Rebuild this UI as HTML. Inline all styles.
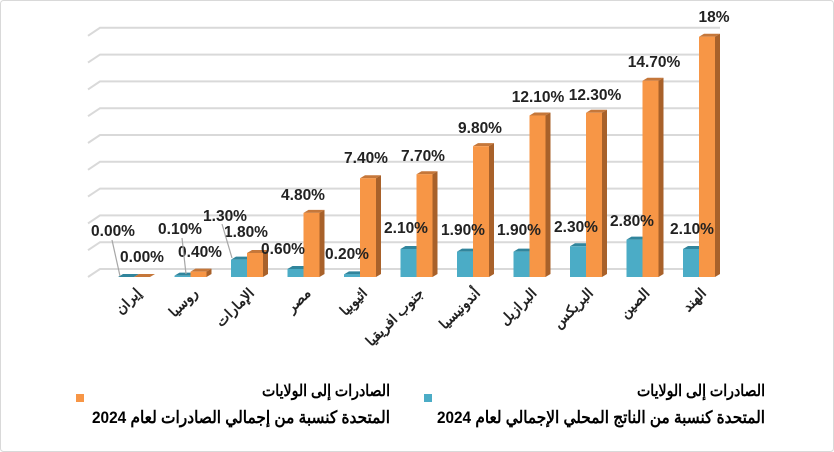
<!DOCTYPE html>
<html><head><meta charset="utf-8"><style>
html,body{margin:0;padding:0;background:#fff}
svg{display:block}
text{font-family:"Liberation Sans","Noto Sans CJK SC",sans-serif;font-weight:bold}
</style></head><body>
<svg width="834" height="452" viewBox="0 0 834 452" xmlns="http://www.w3.org/2000/svg">
<rect x="0.5" y="0.5" width="833" height="451" rx="3" fill="#fff" stroke="#d9d9d9"/>
<g stroke="#d9d9d9" stroke-width="2" fill="none" id="grid"></g>
<g id="bars"></g>
<g id="labels" font-size="15.5" fill="#222" text-anchor="middle"></g>
<g id="cats" font-size="14" fill="#222" text-anchor="end"></g>
<g stroke="#a6a6a6" stroke-width="1.2">
<line x1="112" y1="240" x2="120" y2="276"/>
<line x1="182" y1="238" x2="186" y2="274"/>
<line x1="222" y1="224" x2="232" y2="258"/>
</g>
<rect x="76" y="394" width="8" height="8" fill="#f79646"/>
<text x="262" y="396" font-size="16" textLength="128" lengthAdjust="spacingAndGlyphs" fill="#000">الصادرات إلى الولايات</text>
<text x="92" y="423" font-size="17" textLength="298" lengthAdjust="spacingAndGlyphs" fill="#000">المتحدة كنسبة من إجمالي الصادرات لعام 2024</text>
<rect x="424" y="394" width="8" height="8" fill="#4bacc6"/>
<text x="637" y="396" font-size="16" textLength="128" lengthAdjust="spacingAndGlyphs" fill="#000">الصادرات إلى الولايات</text>
<text x="437" y="423" font-size="17" textLength="328" lengthAdjust="spacingAndGlyphs" fill="#000">المتحدة كنسبة من الناتج المحلي الإجمالي لعام 2024</text>
<script>
var ns="http://www.w3.org/2000/svg";
function el(p,t,a,txt){var e=document.createElementNS(ns,t);for(var k in a)e.setAttribute(k,a[k]);if(txt)e.textContent=txt;document.getElementById(p).appendChild(e);}
for(var i=0;i<10;i++){var y=269-i*26.8;el("grid","polyline",{points:(88)+","+(y+8)+" 100,"+y+" 720,"+y});}
var d=[["إيران",0,0],["روسيا",0.1,0.4],["الإمارات",1.3,1.8],["مصر",0.6,4.8],["اثيوبيا",0.2,7.4],["جنوب افريقيا",2.1,7.7],["أندونيسيا",1.9,9.8],["البرازيل",1.9,12.1],["البريكس",2.3,12.3],["الصين",2.8,14.7],["الهند",2.1,18]];
var base=277,s=13.35;
function bar(x,v,f,t,sd){var h=v*s,top=base-h;
el("bars","polygon",{points:x+","+top+" "+(x+5)+","+(top-3)+" "+(x+21)+","+(top-3)+" "+(x+16)+","+top,fill:t});
el("bars","polygon",{points:(x+16)+","+top+" "+(x+21)+","+(top-3)+" "+(x+21)+","+(base-3)+" "+(x+16)+","+base,fill:sd});
el("bars","rect",{x:x,y:top,width:16,height:h,fill:f});}
d.forEach(function(c,i){var x=118+56.5*i;bar(x,c[1],"#4bacc6","#31859c","#2f7f94");bar(x+16,c[2],"#f79646","#c5773a","#a8612a");
el("cats","text",{transform:"translate("+(x+24)+",294) rotate(-45)"},c[0]);});
var L=[["0.00%",113,236],["0.00%",142,262],["0.10%",180,234],["0.40%",200,257],["1.30%",225,221],["1.80%",246,237],["0.60%",283,254],["4.80%",303,200],["0.20%",347,259],["7.40%",366,163],["2.10%",406,233],["7.70%",423,161],["1.90%",463,235],["9.80%",480,133],["1.90%",519,235],["12.10%",538,102],["2.30%",576,232],["12.30%",595,100],["2.80%",632,226],["14.70%",654,67],["2.10%",692,234],["18%",714,22]];
L.forEach(function(l){el("labels","text",{x:l[1],y:l[2]},l[0]);});
</script>
</svg>
</body></html>
